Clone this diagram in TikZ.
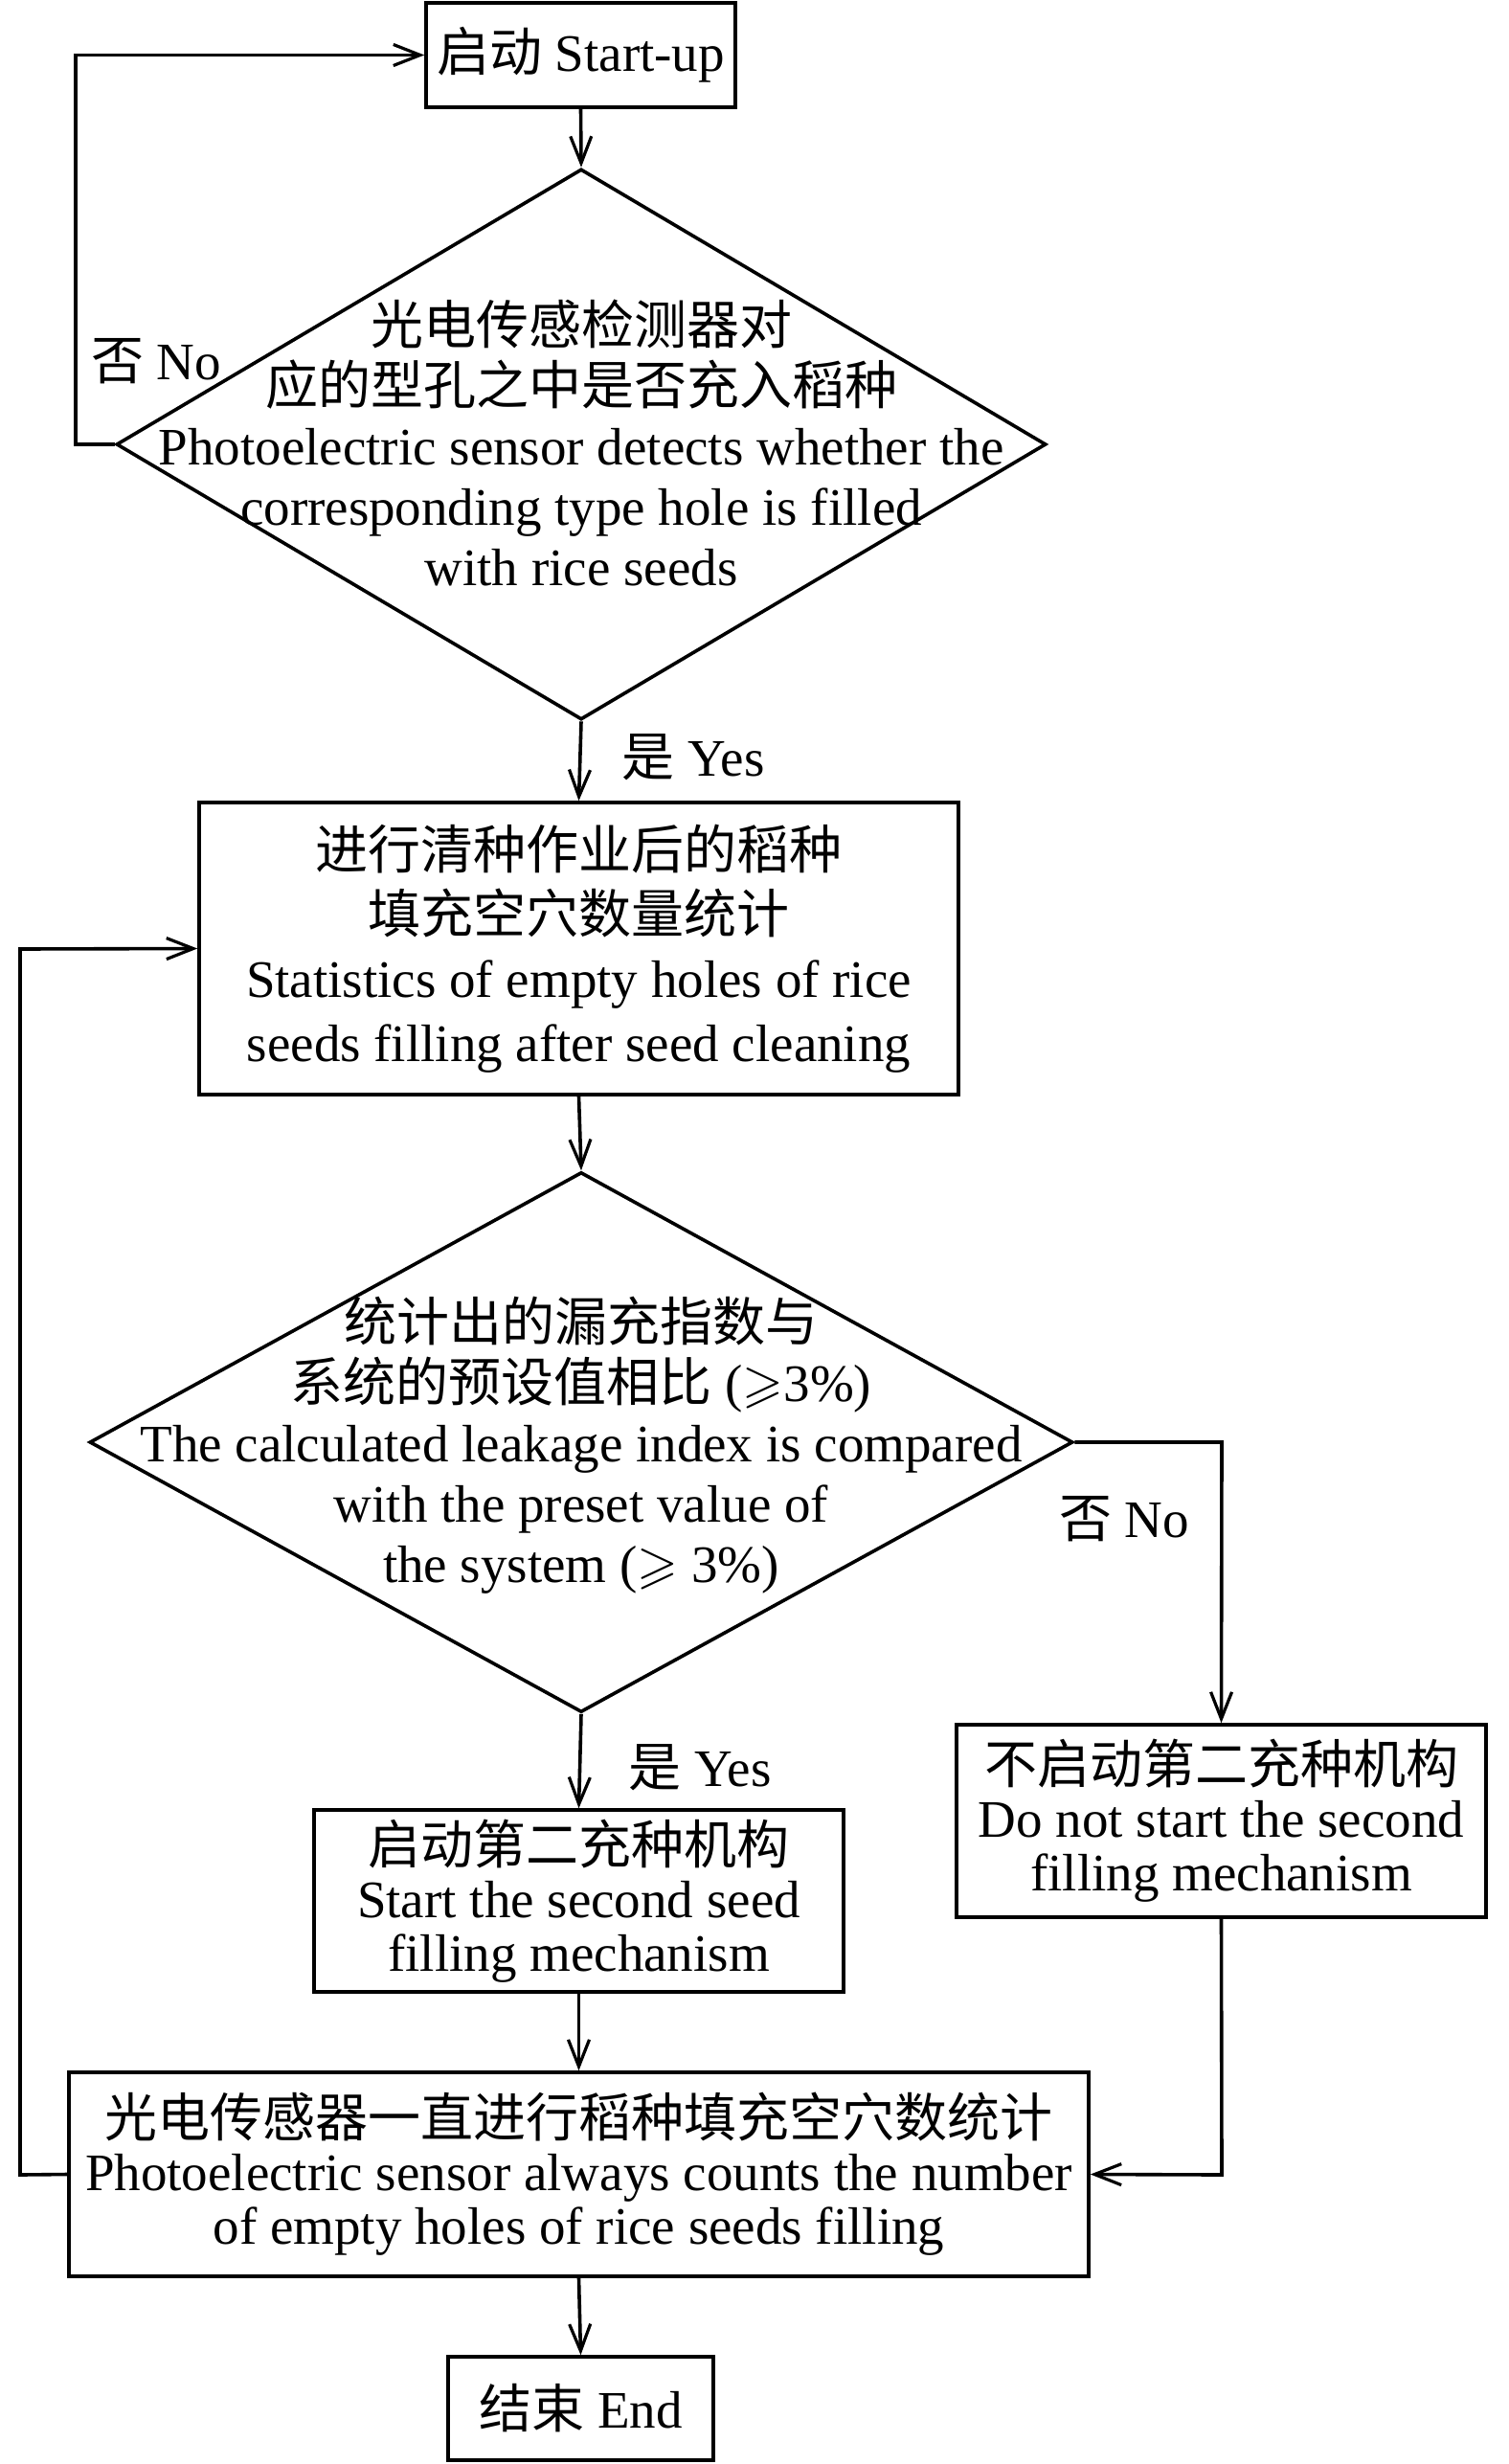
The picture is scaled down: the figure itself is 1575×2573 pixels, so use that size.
\documentclass[tikz,border=0pt]{standalone}
\usepackage{fontspec}
\usepackage{amssymb}
\setmainfont{Liberation Serif}
\newfontfamily\cjk{Noto Sans CJK SC}
\newcommand{\zh}[1]{{\cjk #1}}
\newcommand{\tightls}{\lineskiplimit -30pt\relax}
\usetikzlibrary{arrows.meta,shapes.geometric}
\begin{document}
\begin{tikzpicture}[x=0.5pt,y=-0.5pt,
  line width=1.8pt,
  arr/.style={-{Straight Barb[length=14pt,width=11pt,line width=1.6pt]}},
  txt/.style={align=center,inner sep=0pt},
  fA/.style={font=\fontsize{27.5}{28}\selectfont\tightls},
  fB/.style={font=\fontsize{27.5}{31.5}\selectfont\tightls},
  fC/.style={font=\fontsize{27.5}{33.5}\selectfont\tightls},
  box/.style={draw,rectangle,inner sep=0pt,align=center},
  dia/.style={draw,diamond,inner sep=0pt,aspect=1},
  lab/.style={inner sep=0pt,font=\fontsize{27.5}{28}\selectfont}
]
\useasboundingbox (0,0) rectangle (1575,2573);

\node[box,fA,minimum width=161.5pt,minimum height=54.5pt] (start) at (606.5,57.5) {\zh{启动} Start-up};

\node[dia,minimum width=485.5pt,minimum height=287.5pt] (d1) at (607,464) {};
\node[txt,fB] (d1t) at (607,462) {\zh{光电传感检测器对}\\\zh{应的型孔之中是否充入稻种}\\Photoelectric sensor detects whether the\\corresponding type hole is filled\\with rice seeds};

\node[box,fC,minimum width=396.5pt,minimum height=152.5pt] (b2) at (604.5,990.5) {\zh{进行清种作业后的稻种}\\\zh{填充空穴数量统计}\\Statistics of empty holes of rice\\seeds filling after seed cleaning};

\node[dia,minimum width=513.5pt,minimum height=282pt] (d2) at (607,1506) {};
\node[txt,fB] (d2t) at (607,1509) {\zh{统计出的漏充指数与}\\\zh{系统的预设值相比} ($\geqslant$3\%)\\The calculated leakage index is compared\\with the preset value of\\the system ($\geqslant$ 3\%)};

\node[box,fA,minimum width=276.5pt,minimum height=95pt] (b3) at (604.5,1985) {\zh{启动第二充种机构}\\Start the second seed\\filling mechanism};

\node[box,fA,minimum width=276.5pt,minimum height=100.5pt] (b4) at (1275.5,1901.5) {\zh{不启动第二充种机构}\\Do not start the second\\filling mechanism};

\node[box,fA,minimum width=532.5pt,minimum height=106.5pt] (b5) at (604.5,2270.5) {\zh{光电传感器一直进行稻种填充空穴数统计}\\Photoelectric sensor always counts the number\\of empty holes of rice seeds filling};

\node[box,fA,minimum width=138.5pt,minimum height=54pt] (end) at (606.5,2515) {\zh{结束} End};

\coordinate (c1) at (79,464);
\coordinate (c2) at (79,57.5);
\coordinate (c3) at (1276,1506);
\coordinate (c4) at (1276,2271);
\coordinate (c5) at (21,2271);
\coordinate (c6) at (21,991);

\draw[arr] (start.south) -- (d1.north);
\draw[arr] (d1.west) -- (c1) -- (c2) -- (start.west);
\draw[arr] (d1.south) -- (b2.north);
\draw[arr] (b2.south) -- (d2.north);
\draw[arr] (d2.east) -- (c3) -- (b4.north);
\draw[arr] (d2.south) -- (b3.north);
\draw[arr] (b3.south) -- (b5.north);
\draw[arr] (b4.south) -- (c4) -- (b5.east);
\draw[arr] (b5.west) -- (c5) -- (c6) -- (b2.west);
\draw[arr] (b5.south) -- (end.north);

\node[lab] (l1) at (163,377) {\zh{否} No};
\node[lab] (l2) at (724,791) {\zh{是} Yes};
\node[lab] (l3) at (1174,1586) {\zh{否} No};
\node[lab] (l4) at (731,1846) {\zh{是} Yes};
\end{tikzpicture}
\end{document}
